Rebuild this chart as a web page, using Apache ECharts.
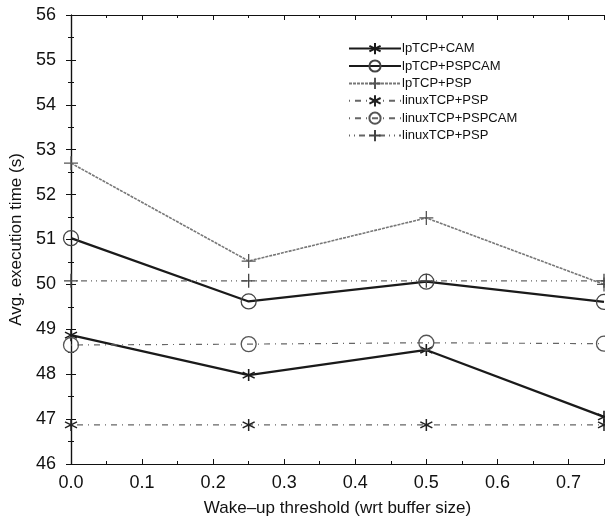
<!DOCTYPE html>
<html>
<head>
<meta charset="utf-8">
<script src="https://cdn.jsdelivr.net/npm/echarts@6/dist/echarts.min.js"></script>
<style>
  html, body { margin: 0; padding: 0; background: #fff; }
  #chart { width: 605px; height: 526px; }
</style>
</head>
<body>
<div id="chart"></div>
<script>
// wake-up threshold values (x)
const thresholds = [0.0, 0.25, 0.5, 0.75];

// avg execution time (s)
const lpCam = [48.87, 47.98, 48.54, 47.05];
const lpPspCam = [51.03, 49.62, 50.06, 49.61];
const lpPsp = [52.7, 50.52, 51.48, 50.0];
const linuxPspStar = [46.87, 46.87, 46.87, 46.87];
const linuxPspCam = [48.65, 48.67, 48.7, 48.68];
const linuxPspPlus = [50.08, 50.08, 50.08, 50.08];

const seriesNames = ['lpTCP+CAM', 'lpTCP+PSPCAM', 'lpTCP+PSP', 'linuxTCP+PSP', 'linuxTCP+PSPCAM', 'linuxTCP+PSP '];

const STAR = 'path://M0,-10L0,10M-8.66,-5L8.66,5M-8.66,5L8.66,-5';
const PLUS = 'path://M-10,0L10,0M0,-10L0,10';
const FONT = 'Liberation Sans';

function pairs(vals) {
    return thresholds.map((x, i) => [x, vals[i]]);
}

function makeSeries(name, vals, opts) {
    return {
        name: name,
        type: 'line',
        data: pairs(vals),
        symbol: opts.symbol,
        symbolSize: opts.size,
        showAllSymbol: true,
        clip: false,
        lineStyle: {color: opts.color, width: opts.width, type: opts.dash},
        itemStyle: {color: 'rgba(0,0,0,0)', borderColor: opts.mark, borderWidth: opts.bw},
        emphasis: {disabled: true},
        animation: false
    };
}

const series = [
    makeSeries(seriesNames[0], lpCam, {symbol: STAR, size: 12, color: '#1a1a1a', width: 2.2, dash: 'solid', mark: '#1a1a1a', bw: 1.6}),
    makeSeries(seriesNames[1], lpPspCam, {symbol: 'circle', size: 15, color: '#1a1a1a', width: 2.2, dash: 'solid', mark: '#444', bw: 1.3}),
    makeSeries(seriesNames[2], lpPsp, {symbol: PLUS, size: 14, color: '#777', width: 1.6, dash: [3, 1], mark: '#555', bw: 1.3}),
    makeSeries(seriesNames[3], linuxPspStar, {symbol: STAR, size: 12, color: '#666', width: 1.2, dash: [1, 5, 6, 5], mark: '#222', bw: 1.5}),
    makeSeries(seriesNames[4], linuxPspCam, {symbol: 'circle', size: 15, color: '#666', width: 1.2, dash: [1, 5, 6, 5], mark: '#555', bw: 1.3}),
    makeSeries(seriesNames[5], linuxPspPlus, {symbol: PLUS, size: 14, color: '#666', width: 1.2, dash: [1, 4, 1, 4, 6, 4], mark: '#444', bw: 1.3})
];

const axisLineStyle = {color: '#111', width: 1.2};

const chart = echarts.init(document.getElementById('chart'));
chart.setOption({
    backgroundColor: '#fff',
    animation: false,
    grid: {left: 71, right: 1, top: 15, bottom: 62, containLabel: false},
    legend: {
        orient: 'vertical',
        left: 343,
        top: 37,
        itemWidth: 52,
        itemHeight: 14,
        itemGap: 4.2,
        data: seriesNames,
        textStyle: {fontFamily: FONT, fontSize: 13, color: '#111', padding: [0, 0, 0, -4]},
        formatter: n => n.trim()
    },
    xAxis: [{
        type: 'value',
        min: 0,
        max: 0.75,
        interval: 0.1,
        name: 'Wake\u2013up threshold (wrt buffer size)',
        nameLocation: 'middle',
        nameGap: 36,
        nameTextStyle: {fontFamily: FONT, fontSize: 17, color: '#111'},
        axisLine: {show: true, lineStyle: axisLineStyle},
        axisTick: {show: true, inside: true, length: 5, lineStyle: {color: '#111'}},
        minorTick: {show: true, splitNumber: 2, length: 3, lineStyle: {color: '#111'}},
        splitLine: {show: false},
        axisLabel: {
            fontFamily: FONT, fontSize: 18, color: '#111', margin: 10,
            showMaxLabel: false,
            formatter: v => v.toFixed(1)
        }
    }, {
        type: 'value',
        position: 'top',
        min: 0,
        max: 0.75,
        interval: 0.1,
        axisLine: {show: true, lineStyle: axisLineStyle},
        axisTick: {show: true, inside: true, length: 5, lineStyle: {color: '#111'}},
        minorTick: {show: true, splitNumber: 2, length: 3, lineStyle: {color: '#111'}},
        splitLine: {show: false},
        axisLabel: {show: false}
    }],
    yAxis: [{
        type: 'value',
        min: 46,
        max: 56,
        interval: 1,
        name: 'Avg. execution time (s)',
        nameLocation: 'middle',
        nameGap: 46,
        nameTextStyle: {fontFamily: FONT, fontSize: 17, color: '#111'},
        axisLine: {show: true, lineStyle: axisLineStyle},
        axisTick: {show: true, inside: true, length: 5, lineStyle: {color: '#111'}},
        minorTick: {show: true, splitNumber: 2, length: 3, lineStyle: {color: '#111'}},
        splitLine: {show: false},
        axisLabel: {fontFamily: FONT, fontSize: 18, color: '#111', margin: 15}
    }, {
        type: 'value',
        position: 'right',
        min: 46,
        max: 56,
        interval: 1,
        axisLine: {show: true, lineStyle: axisLineStyle},
        axisTick: {show: true, inside: true, length: 5, lineStyle: {color: '#111'}},
        minorTick: {show: true, splitNumber: 2, length: 3, lineStyle: {color: '#111'}},
        splitLine: {show: false},
        axisLabel: {show: false}
    }],
    series: series
});
</script>
</body>
</html>
